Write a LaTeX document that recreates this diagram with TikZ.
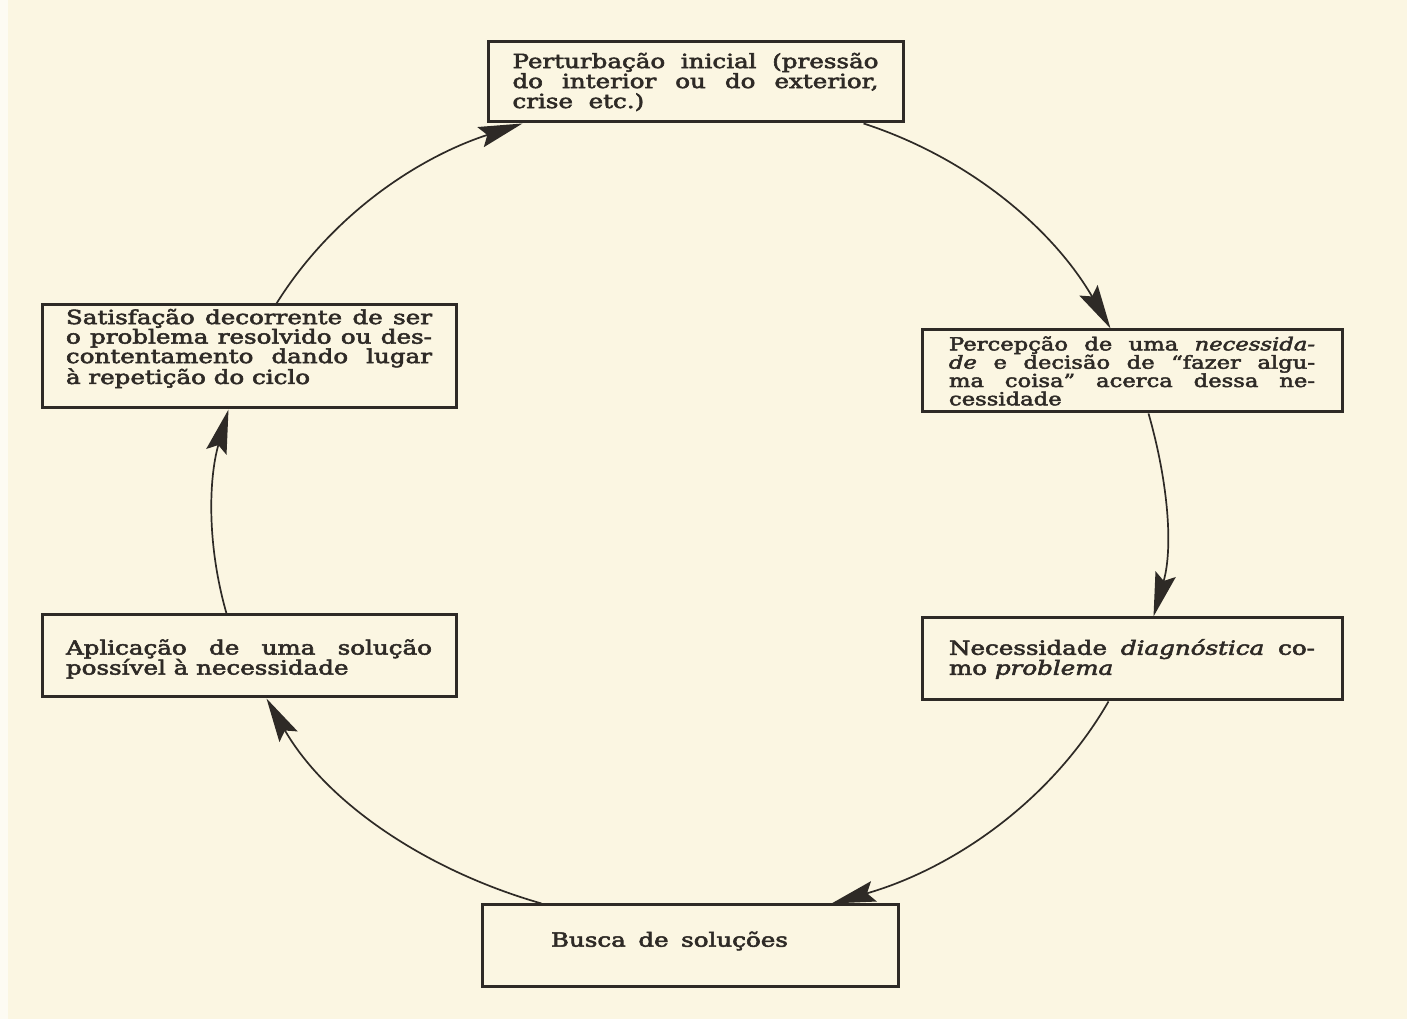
\documentclass[tikz,border=0pt]{standalone}
\usepackage{fontspec}
\usepackage{graphicx}
\setmainfont{DejaVu Serif}[FakeBold=2.5]
\usetikzlibrary{arrows.meta}
\definecolor{paper}{RGB}{251,246,226}
\definecolor{ink}{RGB}{46,42,38}
% one justified line of a box text
\newcommand{\jline}[1]{\makebox[\linewidth][s]{#1}}
% box text: vertical shift, then the lines (set wide, like a slab face)
\newcommand{\stagetext}[2]{\raisebox{#1}[\height][\depth]{%
  \scalebox{1.26}[1]{\parbox{290.5pt}{#2}}}}
\begin{document}
\begin{tikzpicture}[x=1pt,y=1pt,
  stagebox/.style={draw=ink,line width=3pt,text=ink,inner sep=0pt,
    minimum width=#1,font=\fontsize{19.5}{20}\selectfont},
  stagebox/.default=416pt,
  cycle/.style={draw=ink,line width=1.7pt,looseness=0.9,
    -{Stealth[length=44pt,width=21pt,inset=7pt]}}]
  % page
  \fill[paper] (0,0) rectangle (1407,1019);
  \fill[white,opacity=0.6] (0,0) rectangle (8,1019);
  \useasboundingbox (0,0) rectangle (1407,1019);

  % the six stages
  \node[stagebox=415pt,minimum height=80pt] (top) at (695.5,937)
    {\stagetext{0pt}{\jline{Perturbação inicial (pressão}\\
      \jline{do interior ou do exterior,}\\
      crise\ \ etc.)}};
  \node[stagebox=420pt,minimum height=82pt] (rup) at (1132,648)
    {\stagetext{0pt}{\fontsize{18}{18.3}\selectfont
      \jline{Percepção de uma \textit{necessida-}}\\
      \jline{\textit{de} e decisão de “fazer algu-}\\
      \jline{ma coisa” acerca dessa ne-}\\
      cessidade}};
  \node[stagebox=420pt,minimum height=82pt] (rdown) at (1132,360)
    {\stagetext{0pt}{\jline{Necessidade \textit{diagnóstica} co-}\\
      mo \textit{problema}}};
  \node[stagebox=416pt,minimum height=82pt] (bottom) at (690,73)
    {\raisebox{5pt}[\height][\depth]{\scalebox{1.26}[1]{\makebox[290.5pt][l]{%
      \hspace{34.9pt}\makebox[188.1pt][s]{Busca de soluções}}}}};
  \node[stagebox=414pt,minimum height=82pt] (llower) at (249,363)
    {\stagetext{-3pt}{\jline{Aplicação de uma solução}\\
      possível\ à necessidade}};
  \node[stagebox=414pt,minimum height=103pt] (lupper) at (249,662.5)
    {\stagetext{8pt}{\fontsize{19.5}{19.5}\selectfont
      \jline{Satisfação decorrente de ser}\\
      \jline{o problema resolvido ou des-}\\
      \jline{contentamento dando lugar}\\
      à repetição do ciclo}};

  % the cycle, clockwise
  \draw[cycle] ([xshift=-41pt]top.south east) to[out=-18,in=120]
    ([xshift=190pt]rup.north west);
  \draw[cycle] ([xshift=228pt]rup.south west) to[out=-74,in=74]
    ([xshift=233pt]rdown.north west);
  \draw[cycle] ([xshift=188pt]rdown.south west) to[out=-120,in=16]
    ([xshift=351pt]bottom.north west);
  \draw[cycle] ([xshift=61pt]bottom.north west) to[out=164,in=-60]
    ([xshift=226pt]llower.south west);
  \draw[cycle] ([xshift=186pt]llower.north west) to[out=106,in=-106]
    ([xshift=188pt]lupper.south west);
  \draw[cycle] ([xshift=236pt]lupper.north west) to[out=58,in=198]
    ([xshift=36pt]top.south west);
\end{tikzpicture}
\end{document}
